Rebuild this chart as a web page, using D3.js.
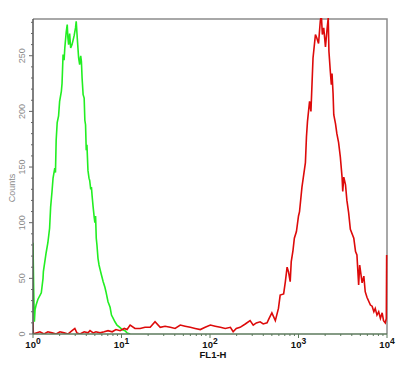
<!DOCTYPE html>
<html>
<head>
<meta charset="utf-8">
<script src="https://cdn.jsdelivr.net/npm/d3@7"></script>
<style>
  body { margin: 0; background: #fff; }
  svg { display: block; }
</style>
</head>
<body>
<section></section>
<script>
// histogram channels (1024 channels over 4 decades) and counts
const greenChannels = [0, 2, 4, 6, 9, 14, 24, 29, 30, 38, 43, 48, 51, 55, 58, 63, 65, 67, 70, 74, 77, 82, 84, 87, 90, 92, 96, 99, 101, 103, 106, 109, 113, 116, 119, 123, 125, 128, 132, 135, 138, 140, 142, 145, 148, 150, 152, 154, 156, 159, 162, 164, 167, 169, 171, 174, 177, 179, 181, 183, 185, 188, 191, 194, 198, 203, 208, 211, 217, 223, 227, 232, 237, 243, 251, 258, 266, 272, 281];
const greenCounts = [82, 40, 11, 22, 26, 31, 37, 50, 56, 73, 82, 95, 114, 128, 140, 149, 145, 174, 190, 196, 209, 218, 225, 251, 246, 257, 271, 278, 266, 260, 270, 257, 260, 264, 268, 275, 281, 266, 248, 242, 250, 245, 230, 215, 212, 192, 188, 165, 170, 147, 140, 138, 130, 132, 124, 114, 105, 100, 106, 86, 80, 68, 62, 58, 53, 47, 42, 38, 29, 24, 17, 14, 11, 8, 6, 4, 3, 1, 0];

const redChannels = [0, 1, 9, 20, 32, 43, 55, 67, 78, 90, 101, 113, 121, 127, 136, 148, 159, 165, 174, 182, 194, 206, 217, 229, 240, 252, 264, 272, 281, 295, 310, 324, 339, 353, 368, 382, 397, 411, 426, 440, 455, 469, 484, 498, 513, 527, 542, 556, 571, 579, 588, 599, 614, 628, 637, 646, 657, 666, 677, 683, 691, 701, 710, 715, 725, 730, 735, 739, 744, 747, 752, 756, 762, 768, 771, 778, 783, 788, 791, 794, 800, 804, 810, 817, 821, 826, 831, 834, 837, 841, 846, 851, 854, 856, 860, 863, 865, 868, 870, 875, 879, 884, 889, 894, 896, 899, 904, 908, 913, 918, 928, 933, 937, 942, 945, 952, 957, 961, 966, 976, 981, 986, 990, 995, 1000, 1005, 1010, 1014, 1019, 1022, 1023];
const redCounts = [11, 0, 1, 2, 0, 2, 1, 0, 2, 1, 0, 3, 5, 1, 0, 2, 1, 3, 1, 2, 1, 2, 3, 2, 4, 3, 5, 4, 8, 5, 5, 6, 6, 11, 6, 7, 6, 5, 8, 7, 6, 5, 4, 6, 8, 7, 6, 5, 6, 2, 5, 6, 9, 12, 8, 10, 11, 9, 10, 14, 19, 12, 23, 35, 36, 47, 60, 56, 47, 65, 75, 86, 92, 106, 110, 132, 143, 154, 177, 191, 209, 200, 248, 269, 266, 261, 281, 287, 269, 275, 258, 275, 284, 254, 236, 224, 234, 216, 197, 189, 180, 172, 159, 141, 128, 141, 134, 120, 109, 94, 86, 74, 71, 44, 62, 46, 52, 38, 33, 26, 25, 20, 23, 17, 20, 14, 19, 12, 10, 14, 71];

const xTicks = [1, 10, 100, 1000, 10000];
const yTicks = [0, 50, 100, 150, 200, 250];

const width = 406, height = 367;
const padLeft = 33, padRight = 387, padTop = 19, padBottom = 334;

const svg = d3.select('section')
    .append('svg')
    .attr('width', width)
    .attr('height', height);

const x = d3.scaleLog().domain([1, 10000]).range([padLeft, padRight]);
const y = d3.scaleLinear().domain([0, 283]).range([padBottom, padTop]);

const chToVal = ch => Math.pow(10, ch / 256);

// frame (top and right)
svg.append('path')
    .attr('d', `M${padLeft},${padTop}H${padRight}V${padBottom}`)
    .attr('fill', 'none')
    .attr('stroke', '#8c8c8c')
    .attr('stroke-width', 1.5);

// histogram lines
const line = d3.line()
    .x(d => x(chToVal(d[0])))
    .y(d => y(d[1]));

svg.append('clipPath').attr('id', 'plot')
    .append('rect').attr('x', padLeft).attr('y', padTop - 1)
    .attr('width', padRight - padLeft + 1).attr('height', padBottom - padTop + 1);

svg.append('path')
    .datum(greenChannels.map((c, i) => [c, greenCounts[i]]))
    .attr('d', line)
    .attr('clip-path', 'url(#plot)')
    .attr('fill', 'none')
    .attr('stroke', '#22ee22')
    .attr('stroke-width', 1.6);

svg.append('path')
    .datum(redChannels.map((c, i) => [c, redCounts[i]]))
    .attr('d', line)
    .attr('clip-path', 'url(#plot)')
    .attr('fill', 'none')
    .attr('stroke', '#dd0a0a')
    .attr('stroke-width', 1.6);

// y axis
const yAxis = svg.append('g').attr('transform', `translate(${padLeft},0)`);
yAxis.append('line')
    .attr('x1', 0).attr('x2', 0).attr('y1', padTop).attr('y2', padBottom)
    .attr('stroke', '#555').attr('stroke-width', 1.5);
yAxis.selectAll('line.minor')
    .data(d3.range(0, 284, 10))
    .enter().append('line')
    .attr('class', 'minor')
    .attr('x1', d => d % 50 === 0 ? -4 : -2).attr('x2', 0)
    .attr('y1', d => y(d)).attr('y2', d => y(d))
    .attr('stroke', '#666').attr('stroke-width', 1);
yAxis.selectAll('text')
    .data(yTicks)
    .enter().append('text')
    .attr('transform', d => `translate(-8,${y(d)}) rotate(-90)`)
    .attr('text-anchor', 'middle')
    .attr('font-family', 'Liberation Sans, Arial, sans-serif')
    .attr('font-size', 9)
    .attr('fill', '#8a8a8a')
    .text(d => d);

svg.append('text')
    .attr('transform', `translate(15,188) rotate(-90)`)
    .attr('text-anchor', 'middle')
    .attr('font-family', 'Liberation Sans, Arial, sans-serif')
    .attr('font-size', 9)
    .attr('fill', '#8a8a8a')
    .text('Counts');

// x axis
const xAxis = svg.append('g').attr('transform', `translate(0,${padBottom})`);
xAxis.append('line')
    .attr('x1', padLeft).attr('x2', padRight).attr('y1', 0).attr('y2', 0)
    .attr('stroke', '#5c7a5c').attr('stroke-width', 1.5);

const minorX = [];
for (let p = 0; p < 4; p++) {
    for (let m = 2; m <= 9; m++) minorX.push(m * Math.pow(10, p));
}
xAxis.selectAll('line.minor')
    .data(minorX)
    .enter().append('line')
    .attr('class', 'minor')
    .attr('x1', d => x(d)).attr('x2', d => x(d))
    .attr('y1', 0).attr('y2', 2)
    .attr('stroke', '#5c7a5c').attr('stroke-width', 1);
xAxis.selectAll('line.major')
    .data(xTicks)
    .enter().append('line')
    .attr('class', 'major')
    .attr('x1', d => x(d)).attr('x2', d => x(d))
    .attr('y1', 0).attr('y2', 4)
    .attr('stroke', '#5c7a5c').attr('stroke-width', 1);

const xl = xAxis.selectAll('text')
    .data(xTicks)
    .enter().append('text')
    .attr('x', d => x(d))
    .attr('y', 14)
    .attr('text-anchor', 'middle')
    .attr('font-family', 'Liberation Sans, Arial, sans-serif')
    .attr('font-weight', 'bold')
    .attr('font-size', 9.5)
    .attr('fill', '#111');
xl.append('tspan').text('10');
xl.append('tspan').attr('dy', -4).attr('font-size', 8.5)
    .text(d => Math.round(Math.log10(d)));

svg.append('text')
    .attr('x', 213).attr('y', 358)
    .attr('text-anchor', 'middle')
    .attr('font-family', 'Liberation Sans, Arial, sans-serif')
    .attr('font-weight', 'bold')
    .attr('font-size', 9.5)
    .attr('fill', '#111')
    .text('FL1-H');
</script>
</body>
</html>
